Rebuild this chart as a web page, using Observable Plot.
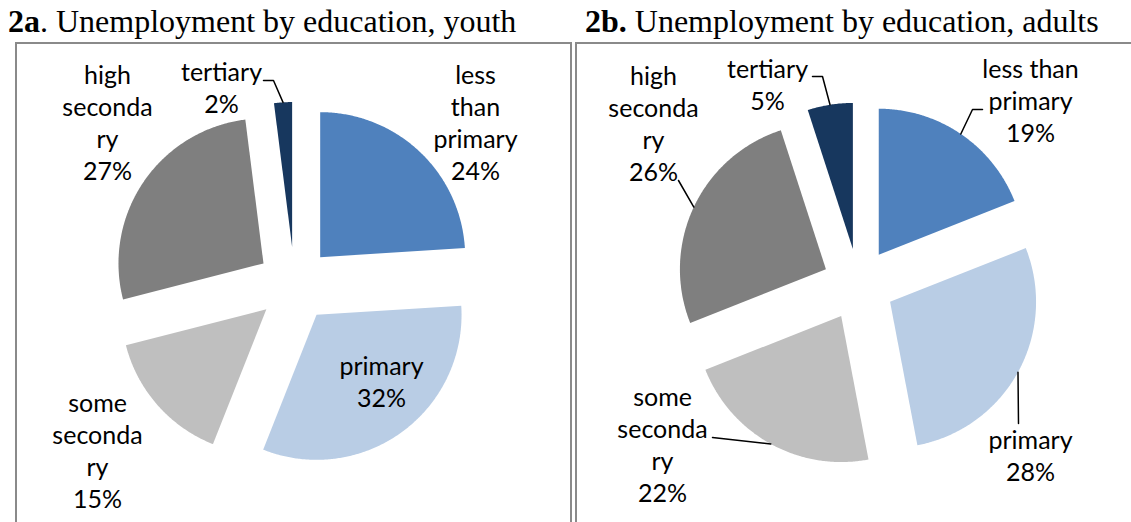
<!DOCTYPE html>
<html>
<head>
<meta charset="utf-8">
<script src="https://cdn.jsdelivr.net/npm/d3@7"></script>
<script src="https://cdn.jsdelivr.net/npm/@observablehq/plot@0.6"></script>
<style>
  html, body { margin: 0; padding: 0; background: #fff; width: 1131px; height: 522px; overflow: hidden; position: relative; }
  .title { position: absolute; font-family: "Liberation Serif", "Times New Roman", serif; font-size: 32px; color: #000; white-space: nowrap; line-height: 1; }
  .box { position: absolute; box-sizing: border-box; border: 2px solid #8a8a8a; }
  .chart { position: absolute; }
  .chart svg { display: block; overflow: visible; }
</style>
</head>
<body>
<div class="title" style="left:8px; top:5px;"><b>2a</b>. Unemployment by education, youth</div>
<div class="title" style="left:585px; top:5px;"><b>2b.</b> Unemployment by education, adults</div>
<div class="box" style="left:15px; top:42px; width:557px; height:500px;"></div>
<div class="box" style="left:575px; top:42px; width:570px; height:500px;"></div>
<div class="chart" id="c1" style="left:16px; top:44px;"></div>
<div class="chart" id="c2" style="left:577px; top:44px;"></div>
<script>
// ---- data ----
const categories = ["less than primary", "primary", "some secondary", "high secondary", "tertiary"];
const youthLabelNames = ["less\nthan\nprimary", "primary", "some\nseconda\nry", "high\nseconda\nry", "tertiary"];
const adultLabelNames = ["less than\nprimary", "primary", "some\nseconda\nry", "high\nseconda\nry", "tertiary"];
const youthShares = [24, 32, 15, 27, 2];
const adultShares = [19, 28, 22, 26, 5];
const colors = ["#4F81BD", "#B9CDE5", "#BFBFBF", "#7F7F7F", "#17375E"];

// ---- layout (not data) ----
const youthLabelPos = [[181, 162.5], [87, -96], [-197, -165.5], [-187, 162.5], [-73, 198]];
const adultLabelPos = [[172, 184.5], [172, -170.5], [-196, -159.5], [-205, 161.5], [-91, 200.5]];
// leader line label-side points per category (null = no leader)
const youthLeaders = [null, null, null, null, [[-31, 204], [-21, 204]]];
const adultLeaders = [[[124, 175], [114, 175]], [[160, -139]], [[-146, -153]], [[-180, 104]], [[-46, 208], [-36, 208]]];

function buildPie(values, R, explode) {
  const total = d3.sum(values);
  const slices = [];
  const geom = [];
  let acc = 0;
  values.forEach((v, i) => {
    const a0 = acc / total * 2 * Math.PI;
    acc += v;
    const a1 = acc / total * 2 * Math.PI;
    const mid = (a0 + a1) / 2;
    const ox = explode * Math.sin(mid), oy = explode * Math.cos(mid);
    geom.push({i, a0, a1, mid, ox, oy});
    slices.push({cat: categories[i], x: ox, y: oy});
    const n = Math.max(2, Math.ceil((a1 - a0) / (Math.PI / 360)));
    for (let k = 0; k <= n; k++) {
      const a = a0 + (a1 - a0) * k / n;
      slices.push({cat: categories[i], x: ox + R * Math.sin(a), y: oy + R * Math.cos(a)});
    }
    slices.push({cat: categories[i], x: ox, y: oy});
  });
  return {slices, geom};
}

function draw(el, values, names, R, explode, width, height, cx, cy, labelPos, leaders) {
  const {slices, geom} = buildPie(values, R, explode);
  const labels = values.map((v, i) => ({
    text: names[i] + "\n" + v + "%",
    x: labelPos[i][0], y: labelPos[i][1]
  }));
  const leaderRows = [];
  leaders.forEach((pts, i) => {
    if (!pts) return;
    const g = geom[i];
    pts.forEach(p => leaderRows.push({id: i, x: p[0], y: p[1]}));
    leaderRows.push({id: i, x: g.ox + R * Math.sin(g.mid), y: g.oy + R * Math.cos(g.mid)});
  });
  const chart = Plot.plot({
    width, height,
    margin: 0,
    x: {domain: [-cx, width - cx], range: [0, width], axis: null},
    y: {domain: [-(height - cy), cy], range: [height, 0], axis: null},
    color: {domain: categories, range: colors},
    marks: [
      Plot.line(slices, {x: "x", y: "y", z: "cat", fill: "cat", stroke: "none", curve: "linear"}),
      Plot.line(leaderRows, {x: "x", y: "y", z: "id", stroke: "#000", strokeWidth: 1.5, fill: "none"}),
      Plot.text(labels, {x: "x", y: "y", text: "text", fontSize: 25, lineHeight: 1.28,
        fontFamily: "Lato, 'Open Sans', sans-serif", fill: "#000", textAnchor: "middle"})
    ]
  });
  document.getElementById(el).appendChild(chart);
}

draw("c1", youthShares, youthLabelNames, 145, 37.5, 555, 478, 278, 240, youthLabelPos, youthLeaders);
draw("c2", adultShares, adultLabelNames, 146, 36, 554, 478, 281, 240, adultLabelPos, adultLeaders);
</script>
</body>
</html>
